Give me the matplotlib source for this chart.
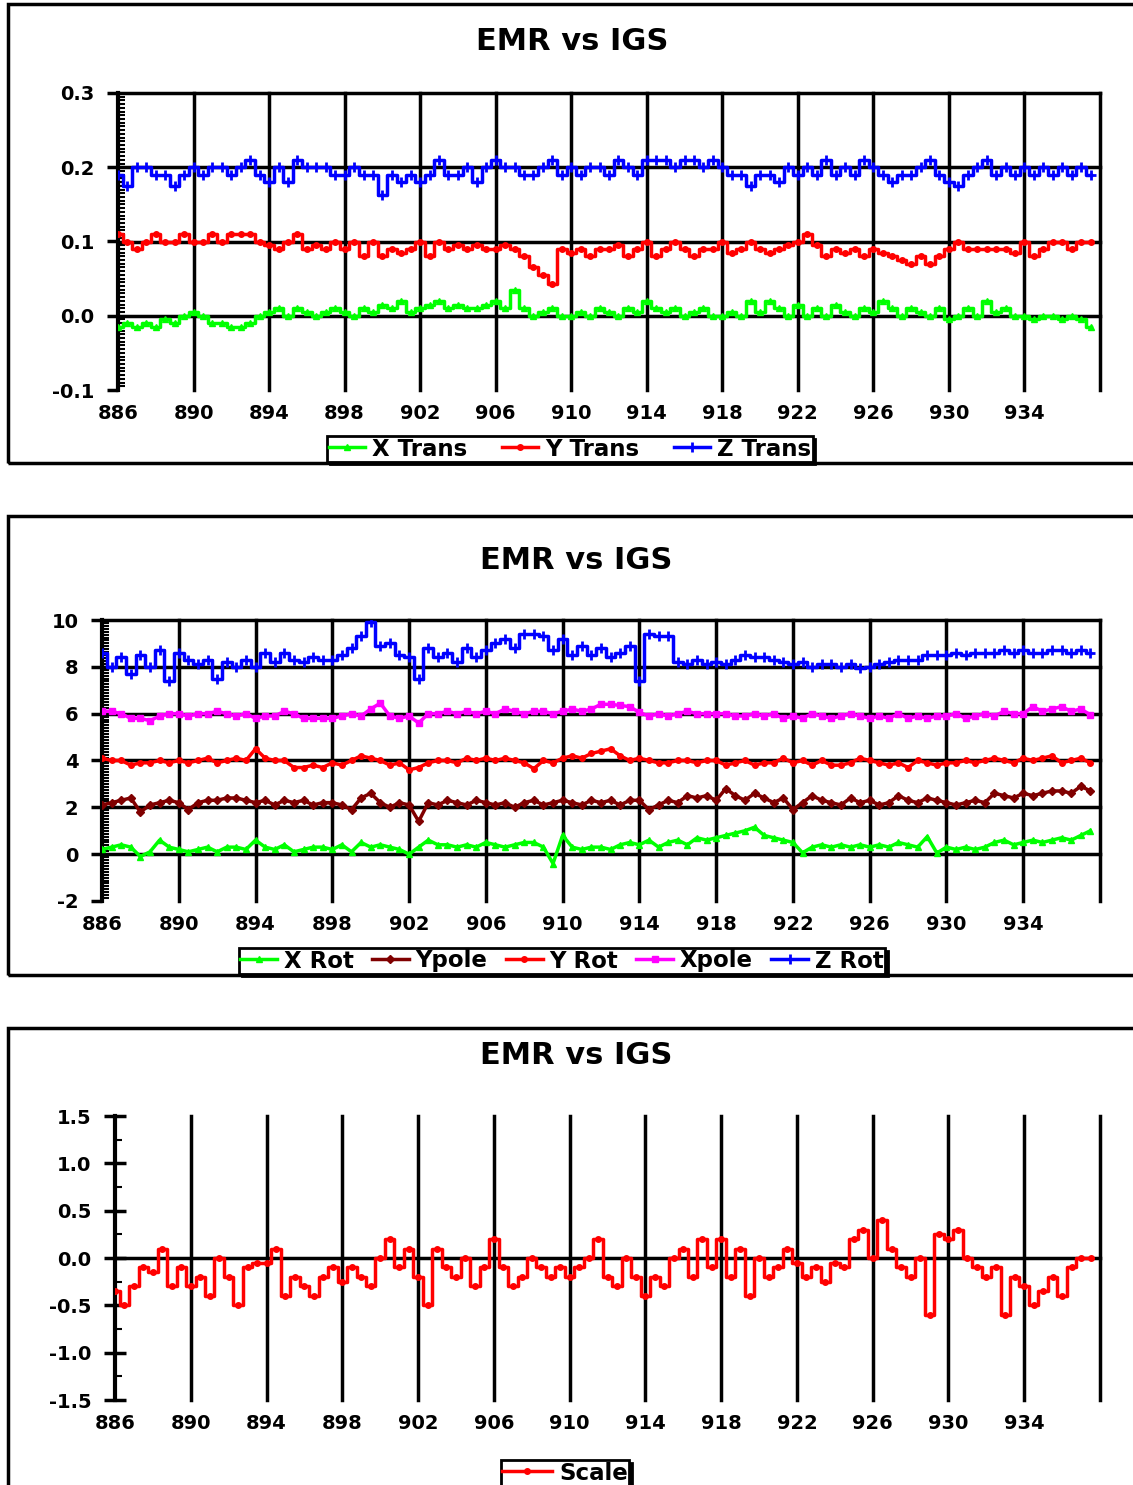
import numpy as np
import matplotlib
matplotlib.use('Agg')
import matplotlib.pyplot as plt
from matplotlib.patches import Rectangle
from matplotlib.ticker import MultipleLocator, FormatStrFormatter

plt.rcParams['font.family'] = ['DejaVu Sans']
plt.rcParams['font.weight'] = 'bold'

# GPS weeks, half-week sampling
weeks = np.arange(886, 938, 0.5)
tick_weeks = [886, 890, 894, 898, 902, 906, 910, 914, 918, 922, 926, 930, 934]
grid_weeks = [890, 894, 898, 902, 906, 910, 914, 918, 922, 926, 930, 934, 938]

# ---- panel 1 : translations
x_trans = [-0.015, -0.01, -0.015, -0.01, -0.015, -0.005, -0.01, 0.0,
           0.005, 0.0, -0.01, -0.01, -0.015, -0.015, -0.01, 0.0,
           0.005, 0.01, 0.0, 0.01, 0.005, 0.0, 0.005, 0.01,
           0.005, 0.0, 0.01, 0.005, 0.015, 0.01, 0.02, 0.005,
           0.01, 0.015, 0.02, 0.01, 0.015, 0.01, 0.01, 0.015,
           0.02, 0.01, 0.035, 0.01, 0.0, 0.005, 0.01, 0.0,
           0.0, 0.005, 0.0, 0.01, 0.005, 0.0, 0.01, 0.005,
           0.02, 0.01, 0.005, 0.01, 0.0, 0.005, 0.01, 0.0,
           0.0, 0.005, 0.0, 0.02, 0.005, 0.02, 0.01, 0.0,
           0.015, 0.0, 0.01, 0.0, 0.015, 0.005, 0.0, 0.01,
           0.005, 0.02, 0.01, 0.0, 0.01, 0.005, 0.0, 0.01,
           -0.005, 0.0, 0.01, 0.0, 0.02, 0.005, 0.01, 0.0,
           0.0, -0.005, 0.0, 0.0, -0.005, 0.0, -0.005, -0.015]
y_trans = [0.11, 0.10, 0.09, 0.10, 0.11, 0.10, 0.10, 0.11,
           0.10, 0.10, 0.11, 0.10, 0.11, 0.11, 0.11, 0.10,
           0.095, 0.09, 0.10, 0.11, 0.09, 0.095, 0.09, 0.10,
           0.09, 0.10, 0.08, 0.10, 0.08, 0.09, 0.085, 0.09,
           0.10, 0.08, 0.10, 0.09, 0.095, 0.09, 0.095, 0.09,
           0.09, 0.095, 0.09, 0.08, 0.065, 0.055, 0.043, 0.09,
           0.085, 0.09, 0.08, 0.09, 0.09, 0.095, 0.08, 0.09,
           0.10, 0.08, 0.09, 0.10, 0.09, 0.08, 0.09, 0.09,
           0.10, 0.085, 0.09, 0.10, 0.09, 0.085, 0.09, 0.095,
           0.10, 0.11, 0.095, 0.08, 0.09, 0.085, 0.09, 0.08,
           0.09, 0.085, 0.08, 0.075, 0.07, 0.08, 0.07, 0.08,
           0.09, 0.10, 0.09, 0.09, 0.09, 0.09, 0.09, 0.085,
           0.10, 0.08, 0.09, 0.10, 0.10, 0.09, 0.10, 0.10]
z_trans = [0.19, 0.175, 0.20, 0.20, 0.19, 0.19, 0.175, 0.19,
           0.20, 0.19, 0.20, 0.20, 0.19, 0.20, 0.21, 0.19,
           0.18, 0.20, 0.18, 0.21, 0.20, 0.20, 0.20, 0.19,
           0.19, 0.20, 0.19, 0.19, 0.163, 0.19, 0.18, 0.19,
           0.18, 0.19, 0.21, 0.19, 0.19, 0.20, 0.18, 0.20,
           0.21, 0.20, 0.20, 0.19, 0.19, 0.20, 0.21, 0.19,
           0.20, 0.19, 0.20, 0.20, 0.19, 0.21, 0.20, 0.19,
           0.21, 0.21, 0.21, 0.20, 0.21, 0.21, 0.20, 0.21,
           0.20, 0.19, 0.19, 0.175, 0.19, 0.19, 0.18, 0.20,
           0.19, 0.20, 0.19, 0.21, 0.19, 0.20, 0.19, 0.21,
           0.20, 0.19, 0.18, 0.19, 0.19, 0.20, 0.21, 0.19,
           0.18, 0.175, 0.19, 0.20, 0.21, 0.19, 0.20, 0.19,
           0.20, 0.19, 0.20, 0.19, 0.20, 0.19, 0.20, 0.19]

# ---- panel 2 : rotations and pole
x_rot = [0.2, 0.3, 0.4, 0.3, -0.1, 0.1, 0.6, 0.3,
         0.2, 0.1, 0.2, 0.3, 0.1, 0.3, 0.3, 0.2,
         0.6, 0.3, 0.2, 0.4, 0.1, 0.2, 0.3, 0.3,
         0.2, 0.4, 0.1, 0.5, 0.3, 0.4, 0.3, 0.2,
         0.0, 0.3, 0.6, 0.4, 0.4, 0.3, 0.4, 0.3,
         0.5, 0.4, 0.3, 0.4, 0.5, 0.5, 0.3, -0.4,
         0.8, 0.3, 0.2, 0.3, 0.3, 0.2, 0.4, 0.5,
         0.4, 0.6, 0.3, 0.5, 0.6, 0.4, 0.7, 0.6,
         0.7, 0.8, 0.9, 1.0, 1.15, 0.8, 0.7, 0.6,
         0.5, 0.06, 0.3, 0.4, 0.3, 0.4, 0.3, 0.4,
         0.3, 0.4, 0.3, 0.5, 0.4, 0.3, 0.75, 0.05,
         0.3, 0.2, 0.3, 0.2, 0.3, 0.5, 0.6, 0.4,
         0.5, 0.6, 0.5, 0.6, 0.7, 0.6, 0.8, 1.0]
y_pole = [2.1, 2.2, 2.3, 2.4, 1.8, 2.1, 2.2, 2.3,
          2.2, 1.9, 2.2, 2.3, 2.3, 2.4, 2.4, 2.3,
          2.2, 2.3, 2.1, 2.3, 2.2, 2.3, 2.1, 2.2,
          2.2, 2.1, 1.9, 2.4, 2.6, 2.2, 2.0, 2.2,
          2.1, 1.4, 2.2, 2.1, 2.3, 2.2, 2.1, 2.3,
          2.2, 2.1, 2.2, 2.0, 2.2, 2.3, 2.1, 2.2,
          2.3, 2.2, 2.1, 2.3, 2.2, 2.3, 2.1, 2.3,
          2.3, 1.9, 2.1, 2.3, 2.2, 2.5, 2.4, 2.5,
          2.3, 2.8, 2.5, 2.3, 2.6, 2.4, 2.2, 2.4,
          1.9, 2.2, 2.5, 2.3, 2.2, 2.1, 2.4, 2.2,
          2.3, 2.1, 2.2, 2.5, 2.3, 2.2, 2.4, 2.3,
          2.2, 2.1, 2.2, 2.3, 2.2, 2.6, 2.5, 2.4,
          2.6, 2.5, 2.6, 2.7, 2.7, 2.6, 2.9, 2.7]
y_rot = [4.1, 4.0, 4.0, 3.8, 3.9, 3.9, 4.0, 3.9,
         4.0, 3.9, 4.0, 4.1, 3.9, 4.0, 4.1, 4.0,
         4.5, 4.1, 4.0, 4.0, 3.7, 3.7, 3.8, 3.7,
         3.9, 3.8, 4.0, 4.2, 4.1, 4.0, 3.8, 3.9,
         3.6, 3.7, 3.9, 4.0, 4.0, 3.9, 4.1, 4.0,
         4.1, 4.0, 4.1, 4.0, 3.9, 3.65, 4.0, 3.9,
         4.1, 4.2, 4.1, 4.3, 4.4, 4.5, 4.2, 4.0,
         4.1, 4.0, 3.9, 3.9, 4.0, 4.0, 3.9, 4.0,
         4.0, 3.8, 3.9, 4.0, 3.8, 3.9, 3.9, 4.1,
         3.9, 4.0, 3.8, 4.0, 3.8, 3.8, 3.9, 4.1,
         4.0, 3.9, 3.8, 3.9, 3.7, 4.0, 3.9, 3.8,
         3.9, 3.9, 4.0, 3.9, 4.0, 4.1, 4.0, 3.9,
         4.1, 4.0, 4.1, 4.2, 3.9, 4.0, 4.1, 3.9]
x_pole = [6.1, 6.1, 6.0, 5.8, 5.8, 5.7, 5.9, 6.0,
          6.0, 5.9, 6.0, 6.0, 6.1, 6.0, 5.9, 6.0,
          5.8, 5.9, 5.9, 6.1, 6.0, 5.8, 5.8, 5.8,
          5.8, 5.9, 6.0, 5.9, 6.2, 6.45, 5.9, 5.8,
          5.9, 5.6, 6.0, 6.0, 6.1, 6.0, 6.1, 6.0,
          6.1, 6.0, 6.2, 6.1, 6.0, 6.1, 6.1, 6.0,
          6.1, 6.2, 6.1, 6.2, 6.4, 6.4, 6.35, 6.3,
          6.05, 5.9, 6.0, 5.9, 6.0, 6.1, 6.0, 6.0,
          6.0, 6.0, 5.9, 5.9, 6.0, 5.9, 6.0, 5.8,
          5.9, 5.8, 6.0, 5.9, 5.8, 5.9, 6.0, 5.9,
          5.8, 5.9, 5.8, 6.0, 5.8, 5.9, 5.8, 5.9,
          5.9, 6.0, 5.8, 5.9, 6.0, 5.9, 6.1, 6.0,
          6.0, 6.3, 6.1, 6.2, 6.3, 6.1, 6.2, 5.95]
z_rot = [8.6, 8.0, 8.4, 7.7, 8.5, 8.0, 8.7, 7.4,
         8.6, 8.3, 8.1, 8.3, 7.5, 8.2, 8.0, 8.3,
         8.0, 8.6, 8.2, 8.6, 8.3, 8.2, 8.4, 8.3,
         8.3, 8.5, 8.8, 9.3, 9.9, 8.9, 9.0, 8.5,
         8.4, 7.5, 8.8, 8.4, 8.6, 8.2, 8.8, 8.4,
         8.7, 9.0, 9.2, 8.8, 9.4, 9.4, 9.3, 8.7,
         9.2, 8.5, 8.9, 8.5, 8.8, 8.4, 8.6, 8.9,
         7.4, 9.4, 9.3, 9.3, 8.2, 8.1, 8.3, 8.1,
         8.2, 8.1, 8.3, 8.5, 8.4, 8.4, 8.3, 8.2,
         8.1, 8.2, 8.0, 8.1, 8.1, 8.0, 8.1, 7.95,
         8.0, 8.1, 8.2, 8.3, 8.3, 8.3, 8.5, 8.5,
         8.5, 8.6, 8.5, 8.6, 8.6, 8.6, 8.7, 8.6,
         8.7, 8.6, 8.6, 8.7, 8.7, 8.6, 8.7, 8.6]

# ---- panel 3 : scale
scale = [-0.35, -0.5, -0.3, -0.1, -0.15, 0.1, -0.3, -0.1,
         -0.3, -0.2, -0.4, 0.0, -0.2, -0.5, -0.1, -0.05,
         -0.05, 0.1, -0.4, -0.2, -0.3, -0.4, -0.2, -0.1,
         -0.25, -0.1, -0.2, -0.3, 0.0, 0.2, -0.1, 0.1,
         -0.2, -0.5, 0.1, -0.1, -0.2, 0.0, -0.3, -0.1,
         0.2, -0.1, -0.3, -0.2, 0.0, -0.1, -0.2, -0.1,
         -0.2, -0.1, 0.0, 0.2, -0.2, -0.3, 0.0, -0.2,
         -0.4, -0.2, -0.3, 0.0, 0.1, -0.2, 0.2, -0.1,
         0.2, -0.2, 0.1, -0.4, 0.0, -0.2, -0.1, 0.1,
         -0.05, -0.2, -0.1, -0.25, -0.05, -0.1, 0.2, 0.3,
         0.0, 0.4, 0.1, -0.1, -0.2, 0.0, -0.6, 0.25,
         0.2, 0.3, 0.0, -0.1, -0.2, -0.1, -0.6, -0.2,
         -0.3, -0.5, -0.35, -0.2, -0.4, -0.1, 0.0, 0.0]

W, H = 1133, 1485
fig = plt.figure(figsize=(W / 100, H / 100), dpi=100)


def fx(px):
    return px / W


def fy(py):
    return 1 - py / H


def panel_box(top, bottom):
    fig.patches.append(Rectangle((fx(8), fy(bottom)), 1.2, fy(top) - fy(bottom),
                                 transform=fig.transFigure, fill=False,
                                 edgecolor='black', linewidth=2.5))


def setup(ax, ymin, ymax, ystep, yminor, hlines, fmt, major_dir='out', major_len=8):
    ax.set_xlim(886, 938)
    ax.set_ylim(ymin, ymax)
    for s in ['top', 'right', 'bottom']:
        ax.spines[s].set_visible(False)
    ax.spines['left'].set_linewidth(3)
    ax.set_xticks(tick_weeks)
    ax.tick_params(axis='x', length=0, pad=10, labelsize=14)
    ax.yaxis.set_major_locator(MultipleLocator(ystep))
    ax.yaxis.set_minor_locator(MultipleLocator(yminor))
    ax.yaxis.set_major_formatter(FormatStrFormatter(fmt))
    ax.tick_params(axis='y', which='major', direction=major_dir, length=major_len,
                   width=2.5, labelsize=14, pad=9)
    ax.tick_params(axis='y', which='minor', direction='in', length=5, width=1.5)
    for w in grid_weeks:
        ax.axvline(w, color='black', lw=2.5, zorder=1, clip_on=False)
    for h in hlines:
        ax.axhline(h, color='black', lw=2.5, zorder=1, clip_on=False)


def add_legend(ax, cx, cy, ncol, hlen=1.6, cspace=0.8):
    leg = ax.legend(loc='center', bbox_to_anchor=(fx(cx), fy(cy)),
                    bbox_transform=fig.transFigure, ncol=ncol, fontsize=16.5,
                    frameon=True, fancybox=False, borderpad=0.05,
                    handlelength=hlen, handletextpad=0.3, columnspacing=cspace,
                    borderaxespad=0, shadow={'color': 'black', 'alpha': 1})
    leg.get_frame().set_edgecolor('black')
    leg.get_frame().set_linewidth(2)
    leg.get_frame().set_alpha(1)


# ---------------- panel 1
panel_box(4, 463)
ax1 = fig.add_axes([fx(118), fy(390), fx(1100) - fx(118), fy(93) - fy(390)])
setup(ax1, -0.1, 0.3, 0.1, 0.005, [0.0, 0.1, 0.2, 0.3], '%.1f')
ax1.plot(weeks, x_trans, color='#00ff00', marker='^', ms=5, lw=2.5,
         drawstyle='steps-mid', label='X Trans', zorder=3)
ax1.plot(weeks, y_trans, color='#ff0000', marker='o', ms=4, lw=2.5,
         drawstyle='steps-mid', label='Y Trans', zorder=3)
ax1.plot(weeks, z_trans, color='#0000ff', marker='+', ms=7, mew=2, lw=2.5,
         drawstyle='steps-mid', label='Z Trans', zorder=3)
fig.text(fx(572), fy(42), 'EMR vs IGS', ha='center', va='center', fontsize=22,
         fontweight='bold')
add_legend(ax1, 570, 449, 3, hlen=1.6, cspace=1.5)

# ---------------- panel 2
panel_box(516, 975)
ax2 = fig.add_axes([fx(102), fy(901), fx(1100) - fx(102), fy(620) - fy(901)])
setup(ax2, -2, 10, 2, 0.125, [0, 2, 4, 6, 8, 10], '%d')
ax2.plot(weeks, x_rot, color='#00ff00', marker='^', ms=5, lw=2.5,
         label='X Rot', zorder=3)
ax2.plot(weeks, y_pole, color='#800000', marker='D', ms=4, lw=2.5,
         label='Ypole', zorder=3)
ax2.plot(weeks, y_rot, color='#ff0000', marker='o', ms=4, lw=2.5,
         label='Y Rot', zorder=3)
ax2.plot(weeks, x_pole, color='#ff00ff', marker='s', ms=4, lw=2.5,
         label='Xpole', zorder=3)
ax2.plot(weeks, z_rot, color='#0000ff', marker='+', ms=7, mew=2, lw=2.5,
         drawstyle='steps-mid', label='Z Rot', zorder=3)
fig.text(fx(576), fy(560), 'EMR vs IGS', ha='center', va='center', fontsize=22,
         fontweight='bold')
add_legend(ax2, 562, 961, 5, hlen=1.6, cspace=0.8)

# ---------------- panel 3
panel_box(1028, 1600)
ax3 = fig.add_axes([fx(115), fy(1400), fx(1100) - fx(115), fy(1116) - fy(1400)])
setup(ax3, -1.5, 1.5, 0.5, 0.25, [0.0], '%.1f', major_dir='inout', major_len=16)
ax3.plot(weeks, scale, color='#ff0000', marker='o', ms=4, lw=2.5,
         drawstyle='steps-mid', label='Scale', zorder=3)
fig.text(fx(576), fy(1056), 'EMR vs IGS', ha='center', va='center', fontsize=22,
         fontweight='bold')
add_legend(ax3, 565, 1473, 1, hlen=2.2)

fig.savefig('out.png', dpi=100)
